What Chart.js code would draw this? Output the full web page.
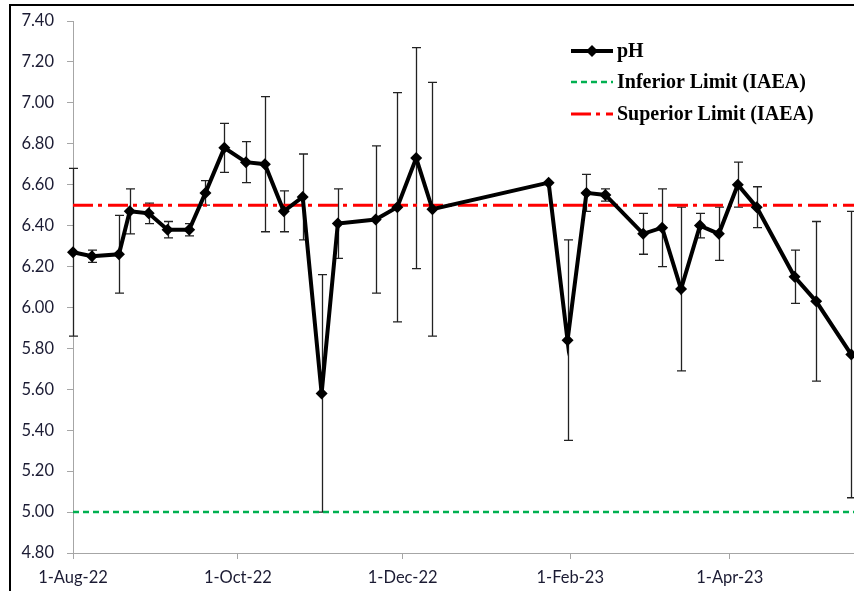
<!DOCTYPE html>
<html>
<head>
<meta charset="utf-8">
<script src="https://cdn.jsdelivr.net/npm/chart.js@4/dist/chart.umd.min.js"></script>
<style>
  html, body { margin: 0; padding: 0; background: #fff; }
  #wrap { position: relative; width: 854px; height: 591px; overflow: hidden; }
  #frame { position: absolute; left: 9px; top: 4px; width: 900px; height: 700px;
           border-top: 2px solid #000; border-left: 2px solid #000; }
  #c { position: absolute; left: 0; top: 0; }
</style>
</head>
<body>
<div id="wrap">
  <div id="frame"></div>
  <canvas id="c" width="854" height="591"></canvas>
</div>
<script>
// Sampling dates and pH results (mean ± standard deviation)
const sampleDates = [
  '2022-08-01', '2022-08-08', '2022-08-18', '2022-08-22', '2022-08-29',
  '2022-09-05', '2022-09-13', '2022-09-19', '2022-09-26', '2022-10-04',
  '2022-10-11', '2022-10-18', '2022-10-25', '2022-11-01', '2022-11-07',
  '2022-11-21', '2022-11-29', '2022-12-06', '2022-12-12', '2023-01-24',
  '2023-01-31', '2023-02-07', '2023-02-14', '2023-02-28', '2023-03-07',
  '2023-03-14', '2023-03-21', '2023-03-28', '2023-04-04', '2023-04-11',
  '2023-04-25', '2023-05-03', '2023-05-16'
];
const phMean = [
  6.27, 6.25, 6.26, 6.47, 6.46, 6.38, 6.38, 6.56, 6.78, 6.71,
  6.70, 6.47, 6.54, 5.58, 6.41, 6.43, 6.49, 6.73, 6.48, 6.61,
  5.84, 6.56, 6.55, 6.36, 6.39, 6.09, 6.40, 6.36, 6.60, 6.49,
  6.15, 6.03, 5.77
];
const phSd = [
  0.41, 0.03, 0.19, 0.11, 0.05, 0.04, 0.03, 0.06, 0.12, 0.10,
  0.33, 0.10, 0.21, 0.58, 0.17, 0.36, 0.56, 0.54, 0.62, 0.00,
  0.49, 0.09, 0.03, 0.10, 0.19, 0.40, 0.06, 0.13, 0.11, 0.10,
  0.13, 0.39, 0.70
];

// IAEA reference limits
const inferiorLimit = 5.0;
const superiorLimit = 6.5;

// Axis settings
const axisStart = '2022-08-01';
const axisEnd = '2023-05-17';
const tickDates = ['2022-08-01', '2022-10-01', '2022-12-01', '2023-02-01', '2023-04-01'];
const tickLabels = ['1-Aug-22', '1-Oct-22', '1-Dec-22', '1-Feb-23', '1-Apr-23'];
const yMin = 4.8, yMax = 7.4, yStep = 0.2;

const toTime = s => Date.parse(s + 'T00:00:00Z');
const xMin = toTime(axisStart), xMax = toTime(axisEnd);

const axisGray = '#a6a6a6';
const tickFont = { family: 'Lato', size: 16.5 };
const tickColor = '#1b1b33';

// Vertical error bars with caps, drawn from mean ± sd
const errorBars = {
  id: 'errorBars',
  beforeDatasetsDraw(chart) {
    const { ctx, scales: { x, y } } = chart;
    ctx.save();
    ctx.strokeStyle = '#222';
    ctx.lineWidth = 1.3;
    sampleDates.forEach((d, i) => {
      if (!phSd[i]) return;
      const px = Math.round(x.getPixelForValue(toTime(d))) + 0.5;
      const top = y.getPixelForValue(phMean[i] + phSd[i]);
      const bot = y.getPixelForValue(phMean[i] - phSd[i]);
      ctx.beginPath();
      ctx.moveTo(px, top); ctx.lineTo(px, bot);
      ctx.moveTo(px - 4.5, top); ctx.lineTo(px + 4.5, top);
      ctx.moveTo(px - 4.5, bot); ctx.lineTo(px + 4.5, bot);
      ctx.stroke();
    });
    ctx.restore();
  }
};

// Legend in the upper right of the plot area
const insideLegend = {
  id: 'insideLegend',
  afterDraw(chart) {
    const { ctx } = chart;
    const x0 = 571, x1 = 613, tx = 617;
    const rows = [51, 82, 114];
    ctx.save();
    ctx.font = 'bold 20px "Liberation Serif"';
    ctx.textBaseline = 'middle';
    ctx.fillStyle = '#000';
    chart.data.datasets.forEach((ds, i) => {
      const yy = rows[i];
      ctx.save();
      ctx.strokeStyle = ds.borderColor;
      ctx.lineWidth = ds.borderWidth;
      ctx.setLineDash(ds.borderDash || []);
      ctx.beginPath();
      ctx.moveTo(x0, yy); ctx.lineTo(x1, yy);
      ctx.stroke();
      ctx.restore();
      if (ds.pointRadius) {
        const r = ds.pointRadius;
        const cx = (x0 + x1) / 2;
        ctx.beginPath();
        ctx.moveTo(cx, yy - r);
        ctx.lineTo(cx + r, yy);
        ctx.lineTo(cx, yy + r);
        ctx.lineTo(cx - r, yy);
        ctx.closePath();
        ctx.fillStyle = ds.backgroundColor;
        ctx.fill();
        ctx.fillStyle = '#000';
      }
      ctx.fillText(ds.label, tx, yy + 1);
    });
    ctx.restore();
  }
};

new Chart(document.getElementById('c'), {
  type: 'line',
  data: {
    datasets: [
      {
        label: 'pH',
        data: sampleDates.map((d, i) => ({ x: toTime(d), y: phMean[i] })),
        borderColor: '#000',
        backgroundColor: '#000',
        borderWidth: 4,
        pointStyle: 'rectRot',
        pointRadius: 6,
        pointBorderWidth: 0,
        tension: 0,
        clip: false,
        order: 0
      },
      {
        label: 'Inferior Limit (IAEA)',
        data: [{ x: xMin, y: inferiorLimit }, { x: xMax, y: inferiorLimit }],
        borderColor: '#00b050',
        borderWidth: 2.5,
        borderDash: [6, 4],
        pointRadius: 0,
        order: 2
      },
      {
        label: 'Superior Limit (IAEA)',
        data: [{ x: xMin, y: superiorLimit }, { x: xMax, y: superiorLimit }],
        borderColor: '#ff0000',
        borderWidth: 3,
        borderDash: [20, 5, 4, 6],
        pointRadius: 0,
        order: 1
      }
    ]
  },
  options: {
    responsive: false,
    animation: false,
    devicePixelRatio: 1,
    layout: { autoPadding: false, padding: { left: 0, right: 0, top: 21, bottom: 0 } },
    plugins: { legend: { display: false }, tooltip: { enabled: false } },
    scales: {
      x: {
        type: 'linear',
        min: xMin,
        max: xMax,
        afterBuildTicks(scale) {
          scale.ticks = tickDates.map(d => ({ value: toTime(d) }));
        },
        afterFit(scale) {
          scale.height = 38;
          scale.paddingLeft = 0;
          scale.paddingRight = 0;
        },
        ticks: {
          autoSkip: false,
          maxRotation: 0,
          padding: 9,
          font: tickFont,
          color: tickColor,
          callback: (v, i) => tickLabels[i]
        },
        grid: { drawOnChartArea: false, drawTicks: true, tickLength: 6, color: axisGray },
        border: { display: true, color: axisGray, width: 1 }
      },
      y: {
        min: yMin,
        max: yMax,
        afterFit(scale) {
          scale.width = 73;
          scale.paddingTop = 0;
          scale.paddingBottom = 0;
        },
        ticks: {
          stepSize: yStep,
          padding: 13,
          font: tickFont,
          color: tickColor,
          callback: v => Number(v).toFixed(2)
        },
        grid: { drawOnChartArea: false, drawTicks: true, tickLength: 6, color: axisGray },
        border: { display: true, color: axisGray, width: 1 }
      }
    }
  },
  plugins: [errorBars, insideLegend]
});
</script>
</body>
</html>
